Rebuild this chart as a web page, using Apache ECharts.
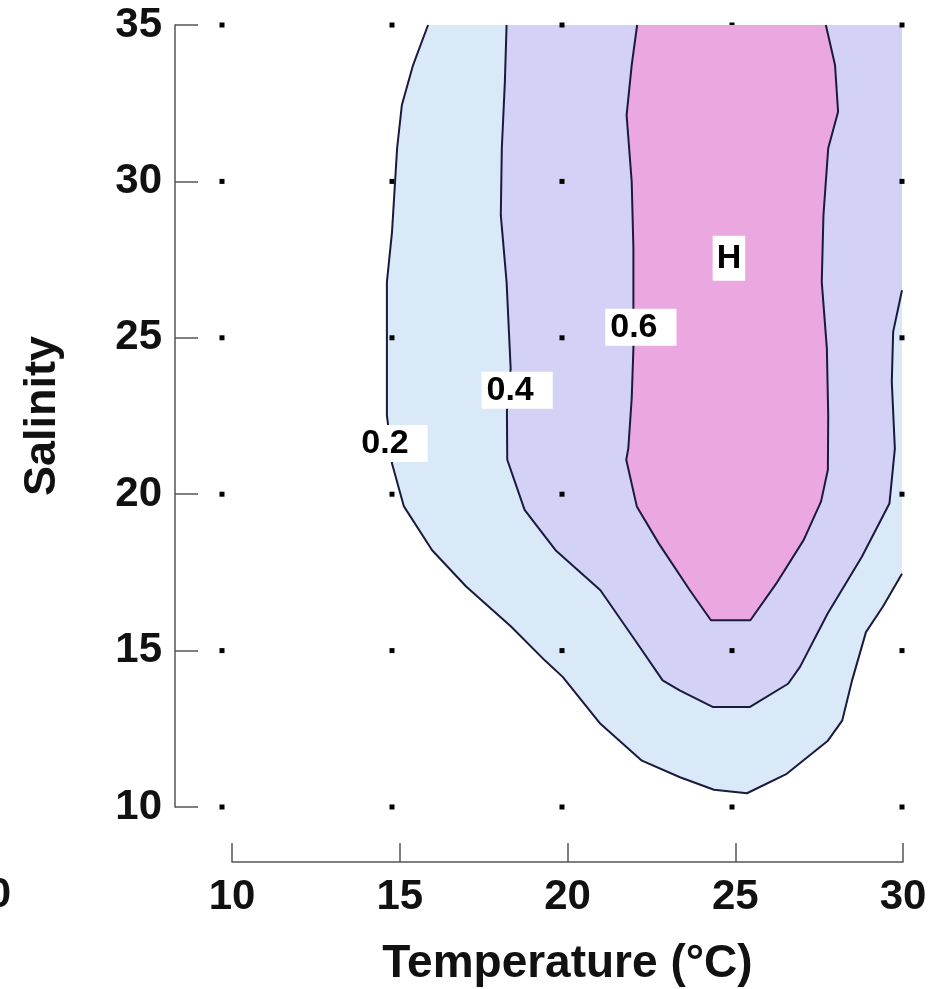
<!DOCTYPE html>
<html>
<head>
<meta charset="utf-8">
<script src="https://cdn.jsdelivr.net/npm/echarts@6/dist/echarts.min.js"></script>
<style>
  html, body { margin: 0; padding: 0; background: #fff; }
  #chartContainer { width: 935px; height: 989px; }
</style>
</head>
<body>
<div id="chartContainer"></div>
<script>
const tempTicks = [10, 15, 20, 25, 30];
const salTicks = [10, 15, 20, 25, 30, 35];

// contour lines, [temperature, salinity]
const contour02 = [
    [16.06, 35.0], [15.62, 33.72], [15.29, 32.44], [15.15, 31.06], [15.09, 29.98],
    [15.0, 28.38], [14.85, 26.78], [14.85, 24.98], [14.85, 22.52], [14.94, 21.72],
    [15.0, 20.98], [15.35, 19.61], [16.18, 18.21], [17.18, 17.05], [18.5, 15.77],
    [19.5, 14.68], [20.02, 14.16], [21.13, 12.66], [22.35, 11.48], [23.47, 10.95],
    [24.47, 10.55], [25.44, 10.44], [26.61, 11.06], [27.82, 12.12], [28.24, 12.76],
    [28.53, 14.04], [28.94, 15.59], [29.44, 16.41], [30.0, 17.46]
];
const contour04 = [
    [18.37, 35.0], [18.32, 33.19], [18.23, 31.06], [18.2, 28.92], [18.37, 26.79],
    [18.49, 24.02], [18.38, 22.68], [18.39, 21.1], [18.9, 19.5], [19.81, 18.21],
    [21.13, 16.93], [22.15, 15.33], [22.96, 14.05], [23.46, 13.73], [24.43, 13.2],
    [25.53, 13.2], [26.65, 13.94], [27.0, 14.48], [27.81, 16.18], [28.82, 18.0],
    [29.63, 19.7], [29.79, 21.46], [29.7, 23.59], [29.74, 25.19], [30.0, 26.52]
];
const contour06 = [
    [22.21, 35.0], [22.05, 33.72], [21.9, 32.12], [22.05, 29.99], [22.1, 27.86],
    [22.1, 26.04], [22.1, 24.66], [22.05, 23.06], [21.95, 21.46], [21.89, 21.1],
    [22.2, 19.61], [22.85, 18.42], [23.76, 16.93], [24.38, 15.97], [25.54, 15.97],
    [26.3, 17.14], [27.11, 18.54], [27.62, 19.77], [27.82, 20.78], [27.83, 22.52],
    [27.79, 24.66], [27.64, 26.79], [27.69, 28.92], [27.83, 31.06], [28.12, 32.23],
    [28.03, 33.72], [27.76, 35.0]
];

const labelText = ['0.2', '0.4', '0.6', 'H'];
const labelT = [15.0, 18.68, 22.32, 24.91];
const labelS = [21.62, 23.32, 25.34, 27.54];

const FONT = "'Liberation Sans', Arial, Helvetica, sans-serif";
const LINE_COLOR = '#1a1a3c';

let chart = null;

document.addEventListener('DOMContentLoaded', function() {
    chart = echarts.init(document.getElementById('chartContainer'));
    updateChart();
});

function polygonSeries(points, color, z) {
    return {
        type: 'custom',
        xAxisIndex: 0,
        yAxisIndex: 0,
        z: z,
        silent: true,
        data: [0],
        renderItem: function(params, api) {
            return {
                type: 'polygon',
                shape: { points: points.map(p => api.coord(p)) },
                style: { fill: color }
            };
        }
    };
}

function contourSeries(points) {
    return {
        type: 'line',
        xAxisIndex: 0,
        yAxisIndex: 0,
        z: 5,
        silent: true,
        showSymbol: false,
        symbol: 'none',
        data: points,
        lineStyle: { color: LINE_COLOR, width: 2 }
    };
}

function updateChart() {
    const dots = [];
    tempTicks.forEach(t => salTicks.forEach(s => dots.push([t, s])));

    const labelData = labelText.map((txt, i) => ({
        value: [labelT[i], labelS[i]],
        label: {
            formatter: txt,
            padding: txt === 'H' ? [6, 4, 5, 4] : [2, 19, 1, 5]
        }
    }));

    const tickLabel = { fontSize: 42, fontWeight: 'bold', color: '#111', fontFamily: FONT };

    const option = {
        backgroundColor: '#fff',
        animation: false,
        grid: [
            { left: 222, right: 33, top: 25, bottom: 182, containLabel: false, outerBoundsMode: 'none' },
            { left: 232, right: 32, top: 25, bottom: 127, containLabel: false, outerBoundsMode: 'none' }
        ],
        xAxis: [
            { gridIndex: 0, type: 'value', min: 10, max: 30, show: false },
            {
                gridIndex: 1, type: 'value', min: 10, max: 30, interval: 5,
                axisLine: { show: true, onZero: false, lineStyle: { color: '#555', width: 1.5 } },
                axisTick: { show: true, inside: true, length: 19, lineStyle: { color: '#555', width: 1.5 } },
                splitLine: { show: false },
                axisLabel: Object.assign({ margin: 14 }, tickLabel),
                name: 'Temperature (°C)',
                nameLocation: 'middle',
                nameGap: 79,
                nameTextStyle: { fontSize: 46, fontWeight: 'bold', color: '#111', fontFamily: FONT }
            }
        ],
        yAxis: [
            {
                gridIndex: 0, type: 'value', min: 10, max: 35, interval: 5,
                offset: 47,
                axisLine: { show: true, onZero: false, lineStyle: { color: '#555', width: 1.5 } },
                axisTick: { show: true, inside: true, length: 23, lineStyle: { color: '#555', width: 1.5 } },
                splitLine: { show: false },
                axisLabel: Object.assign({ margin: 13 }, tickLabel),
                name: 'Salinity',
                nameLocation: 'middle',
                nameGap: 110,
                nameRotate: 90,
                nameTextStyle: { fontSize: 45, fontWeight: 'bold', color: '#111', fontFamily: FONT }
            },
            { gridIndex: 1, type: 'value', min: 0, max: 1, show: false }
        ],
        graphic: [{
            type: 'text',
            x: 11,
            y: 895,
            style: {
                text: '30', align: 'right', verticalAlign: 'middle',
                fontSize: 42, fontWeight: 'bold', fontFamily: FONT, fill: '#111'
            }
        }],
        series: [
            polygonSeries(contour02.concat([[30, 35]]), '#d9e9f8', 1),
            polygonSeries(contour04.concat([[30, 35]]), '#d3d2f6', 2),
            {
                type: 'scatter',
                xAxisIndex: 0,
                yAxisIndex: 0,
                z: 3,
                silent: true,
                symbol: 'rect',
                symbolSize: 5,
                itemStyle: { color: '#000', opacity: 1 },
                data: dots
            },
            polygonSeries(contour06, '#eba7df', 4),
            contourSeries(contour02),
            contourSeries(contour04),
            contourSeries(contour06),
            {
                type: 'scatter',
                xAxisIndex: 0,
                yAxisIndex: 0,
                z: 6,
                silent: true,
                symbolSize: 0,
                itemStyle: { opacity: 1 },
                data: labelData,
                label: {
                    show: true,
                    position: 'inside',
                    fontSize: 34,
                    lineHeight: 34,
                    fontWeight: 'bold',
                    fontFamily: FONT,
                    color: '#000',
                    opacity: 1,
                    backgroundColor: '#ffffff'
                }
            }
        ]
    };

    chart.setOption(option, true);
}
</script>
</body>
</html>
